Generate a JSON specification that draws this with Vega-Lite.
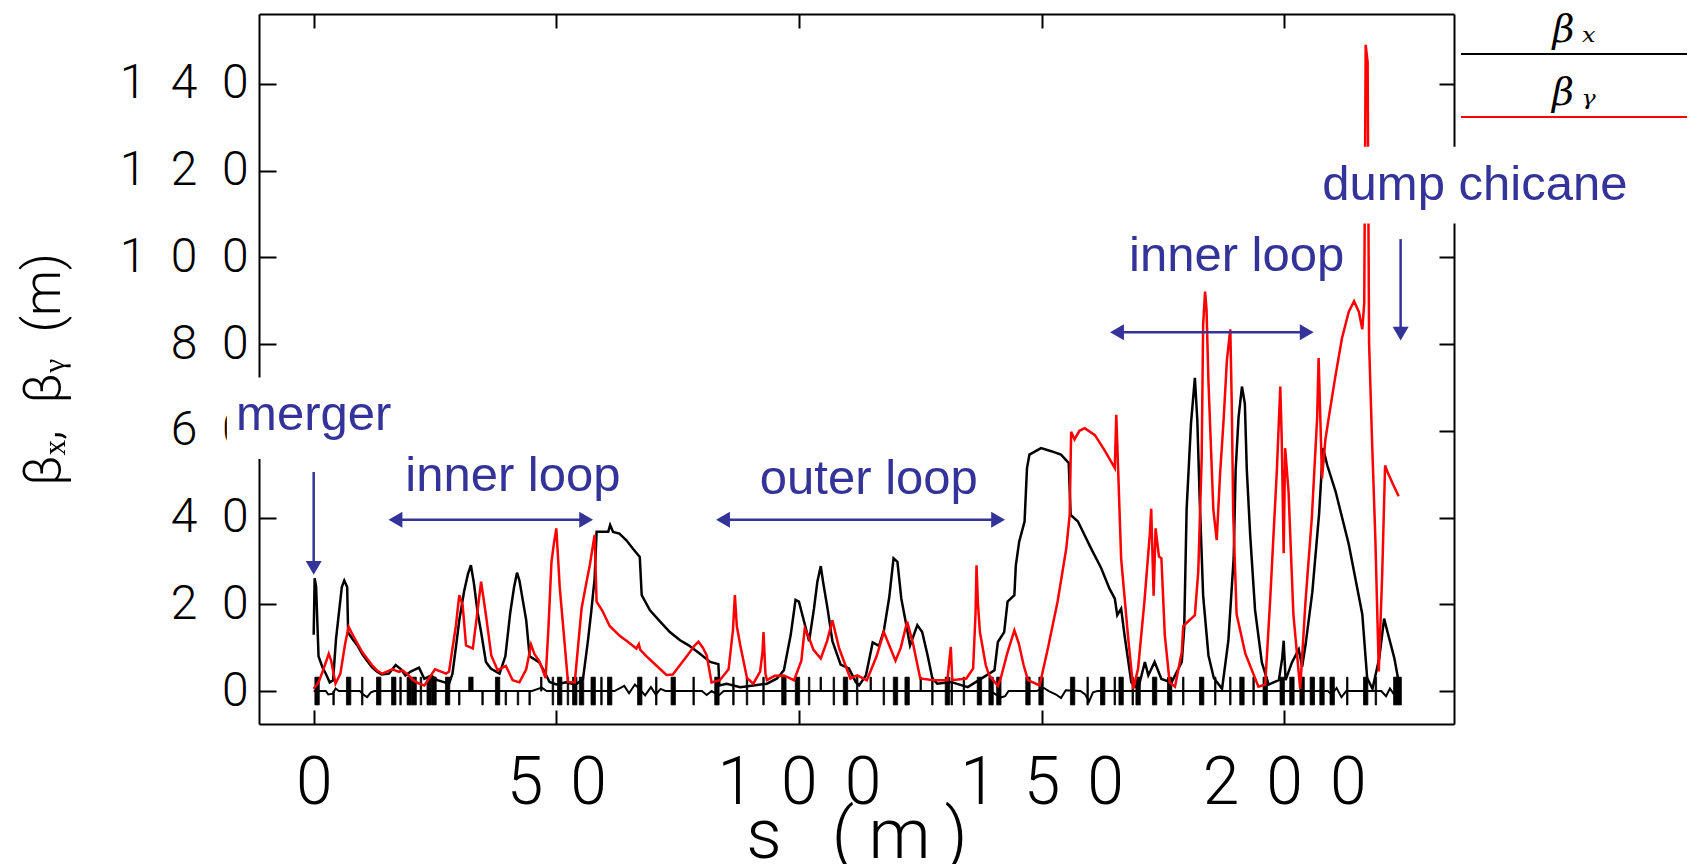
{
  "$schema": "https://vega.github.io/schema/vega-lite/v6.json",
  "background": "white",
  "autosize": {"type": "pad"},
  "padding": {"left": 17, "top": 12, "right": 0, "bottom": 0},
  "bounds": "flush",
  "spacing": 7,
  "config": {
    "view": {"stroke": null},
    "axis": {"domainColor": "black", "domainWidth": 2, "tickColor": "black", "tickWidth": 2, "labelColor": "black", "titleColor": "black", "grid": false, "labelFont": "Roboto", "labelFontWeight": 300, "titleFont": "Roboto", "titleFontWeight": 300, "labelOverlap": false, "labelFlush": false}
  },
  "datasets": {
    "bx": [
      {"s":0,"v":13},{"s":0.2,"v":26},{"s":0.5,"v":24},{"s":1.0,"v":8},{"s":1.8,"v":5.5},{"s":2.5,"v":4},{"s":3.3,"v":2},{"s":4.0,"v":2.5},{"s":4.6,"v":12},{"s":5.2,"v":18},{"s":5.8,"v":24},{"s":6.3,"v":25.5},{"s":6.9,"v":24},{"s":7.1,"v":13.5},{"s":8,"v":12},{"s":9,"v":10.5},{"s":10,"v":8.5},{"s":11,"v":7},{"s":12,"v":5.5},{"s":13,"v":4.5},{"s":14,"v":3.8},{"s":15.5,"v":4},{"s":16.9,"v":6},{"s":18,"v":5},{"s":18.9,"v":3.6},{"s":20,"v":4.5},{"s":21.7,"v":5.4},{"s":22.8,"v":2.8},{"s":24.2,"v":3.6},{"s":25.5,"v":2.5},{"s":27,"v":2},{"s":27.9,"v":1.7},{"s":28.6,"v":4},{"s":29.3,"v":10},{"s":30,"v":16.3},{"s":31,"v":23},{"s":31.8,"v":27},{"s":32.4,"v":29},{"s":33,"v":25},{"s":33.8,"v":18},{"s":34.5,"v":13.6},{"s":35.5,"v":6.7},{"s":36.5,"v":5.2},{"s":38.3,"v":4},{"s":39.5,"v":8},{"s":40.5,"v":18},{"s":41.3,"v":24},{"s":41.9,"v":27.3},{"s":42.4,"v":25.5},{"s":43.8,"v":16.3},{"s":44.5,"v":8},{"s":46.5,"v":6.6},{"s":47.6,"v":4.4},{"s":48.6,"v":2.1},{"s":50,"v":1.5},{"s":52,"v":2},{"s":54,"v":1.5},{"s":55.5,"v":2.8},{"s":56.5,"v":11.4},{"s":57.2,"v":18.3},{"s":57.9,"v":26},{"s":58.3,"v":36.7},{"s":60.7,"v":36.7},{"s":61.1,"v":38.3},{"s":61.7,"v":36.7},{"s":63,"v":36.3},{"s":64.4,"v":34.8},{"s":65.8,"v":32.8},{"s":67.2,"v":30.9},{"s":67.6,"v":22.1},{"s":69.3,"v":18.6},{"s":71.4,"v":16},{"s":73.4,"v":13.6},{"s":75.5,"v":11.7},{"s":77.2,"v":10.6},{"s":79.6,"v":8.6},{"s":81.7,"v":6.7},{"s":83.4,"v":6.2},{"s":83.6,"v":1.3},{"s":85.1,"v":1.7},{"s":87.9,"v":0.9},{"s":90.6,"v":1.3},{"s":93.4,"v":1.7},{"s":95.5,"v":2.9},{"s":96.9,"v":4.8},{"s":98.3,"v":12.9},{"s":99.3,"v":21},{"s":100,"v":20.6},{"s":100.7,"v":17.6},{"s":102.1,"v":11.5},{"s":103.1,"v":19},{"s":103.8,"v":25.2},{"s":104.5,"v":28.8},{"s":105,"v":25},{"s":105.9,"v":19},{"s":106.9,"v":11.5},{"s":108.6,"v":6.1},{"s":110.3,"v":5.2},{"s":111.7,"v":2.1},{"s":112.4,"v":1.3},{"s":113.8,"v":3.6},{"s":115.2,"v":11.2},{"s":116.5,"v":10.4},{"s":117.5,"v":13.9},{"s":118.6,"v":21.5},{"s":119.5,"v":30.6},{"s":120.3,"v":29.8},{"s":121.1,"v":21.3},{"s":122,"v":16},{"s":122.9,"v":10.5},{"s":124.4,"v":15.2},{"s":125.4,"v":13.6},{"s":126.5,"v":8.3},{"s":127.5,"v":2.9},{"s":128.5,"v":1.7},{"s":131.3,"v":2.1},{"s":134.8,"v":0.9},{"s":137.5,"v":2.8},{"s":140.3,"v":4.8},{"s":141,"v":11.3},{"s":142.3,"v":13.6},{"s":143,"v":20.6},{"s":144.4,"v":22.1},{"s":144.7,"v":29},{"s":145.4,"v":34.5},{"s":146.5,"v":39.1},{"s":147,"v":51.4},{"s":147.5,"v":54.5},{"s":149.9,"v":56},{"s":152,"v":55.3},{"s":154,"v":54.5},{"s":155.6,"v":52.6},{"s":156,"v":40.6},{"s":157.5,"v":39.1},{"s":160.2,"v":32.9},{"s":162.3,"v":28.3},{"s":164,"v":23.6},{"s":165.1,"v":21.3},{"s":165.6,"v":17.5},{"s":166.4,"v":19},{"s":167.1,"v":12.9},{"s":167.9,"v":6.7},{"s":168.5,"v":2},{"s":169.9,"v":0.5},{"s":171.3,"v":6.7},{"s":172,"v":3.6},{"s":173.3,"v":6.7},{"s":174.7,"v":2.8},{"s":176.8,"v":2},{"s":178.9,"v":6.7},{"s":179.4,"v":14.4},{"s":179.9,"v":42},{"s":180.8,"v":61.7},{"s":181.6,"v":72.2},{"s":182.1,"v":62.5},{"s":182.6,"v":44},{"s":183.3,"v":22},{"s":184.4,"v":8.2},{"s":185.5,"v":3},{"s":187.2,"v":0.5},{"s":188.5,"v":11.6},{"s":189.6,"v":30.8},{"s":190,"v":51},{"s":190.6,"v":63.1},{"s":191.3,"v":70.2},{"s":191.9,"v":66.2},{"s":192.3,"v":51},{"s":193,"v":35.9},{"s":194,"v":18.7},{"s":195.4,"v":6.6},{"s":196.8,"v":1.5},{"s":198.9,"v":2.5},{"s":199.6,"v":7.6},{"s":199.9,"v":11.6},{"s":200.3,"v":2.5},{"s":201.6,"v":6.6},{"s":203,"v":9.6},{"s":203.7,"v":5.6},{"s":204.4,"v":10.6},{"s":205.8,"v":22.8},{"s":207.2,"v":40.9},{"s":208,"v":56},{"s":208.9,"v":52},{"s":210.6,"v":46},{"s":213.3,"v":33.9},{"s":216.1,"v":17.7},{"s":217.1,"v":3},{"s":218.2,"v":0.5},{"s":219.6,"v":7.6},{"s":220.6,"v":16.7},{"s":221.3,"v":13.6},{"s":222.7,"v":7.6},{"s":223.7,"v":1.5}
    ],
    "by": [
      {"s":0,"v":0.5},{"s":1,"v":2},{"s":2,"v":5},{"s":3.1,"v":8.6},{"s":3.6,"v":7},{"s":4.5,"v":1.7},{"s":5.5,"v":4},{"s":6.5,"v":11},{"s":7.2,"v":14.8},{"s":7.8,"v":13.5},{"s":9,"v":11},{"s":10,"v":9},{"s":11,"v":7.5},{"s":12,"v":6},{"s":13,"v":4.8},{"s":14.1,"v":4},{"s":16.2,"v":5},{"s":17.6,"v":4.4},{"s":18.3,"v":4.8},{"s":19.7,"v":3.5},{"s":20.5,"v":2.5},{"s":21.7,"v":1.7},{"s":22.8,"v":1.3},{"s":25,"v":5},{"s":27.3,"v":4},{"s":27.9,"v":4.5},{"s":28.6,"v":9.8},{"s":29.3,"v":15},{"s":30,"v":22.1},{"s":30.7,"v":19.8},{"s":31.4,"v":10.5},{"s":32.8,"v":9.8},{"s":33.6,"v":17},{"s":34.5,"v":25.2},{"s":35.5,"v":17.5},{"s":36.6,"v":8.2},{"s":37.9,"v":4.8},{"s":39.6,"v":5.8},{"s":41,"v":2.5},{"s":42.4,"v":2},{"s":43.8,"v":5},{"s":44.8,"v":10.7},{"s":45.5,"v":8.5},{"s":46.5,"v":6.9},{"s":47.8,"v":3},{"s":48.4,"v":15},{"s":49,"v":29.7},{"s":49.5,"v":34},{"s":50,"v":37.5},{"s":50.5,"v":28},{"s":50.7,"v":24},{"s":51.4,"v":15},{"s":52.4,"v":2.1},{"s":53.8,"v":2},{"s":55.2,"v":19},{"s":56.2,"v":25},{"s":56.9,"v":29},{"s":57.9,"v":36},{"s":58.3,"v":20.6},{"s":59.5,"v":18.5},{"s":61,"v":15},{"s":63,"v":12.8},{"s":64.8,"v":11.3},{"s":66.5,"v":9.8},{"s":67,"v":10.8},{"s":67.3,"v":9.5},{"s":68.6,"v":8},{"s":70.5,"v":6},{"s":72.7,"v":3.7},{"s":74,"v":3.8},{"s":75.5,"v":6},{"s":77,"v":8.2},{"s":78.5,"v":10.5},{"s":79.3,"v":11.4},{"s":80.2,"v":10},{"s":81,"v":8.2},{"s":82,"v":2},{"s":83.7,"v":2.5},{"s":85.5,"v":5},{"s":86.4,"v":14},{"s":86.8,"v":22.1},{"s":87.2,"v":15},{"s":87.9,"v":10.6},{"s":89.3,"v":3},{"s":90.6,"v":1.7},{"s":92,"v":4.5},{"s":92.5,"v":9},{"s":92.7,"v":13.6},{"s":93.1,"v":4},{"s":93.4,"v":2.5},{"s":95,"v":3.5},{"s":96.9,"v":3.6},{"s":99,"v":2.5},{"s":100.5,"v":7},{"s":101.2,"v":14.4},{"s":102,"v":12.5},{"s":103,"v":9.5},{"s":104.5,"v":7.5},{"s":105.8,"v":11.5},{"s":106.9,"v":16.3},{"s":108.3,"v":9.8},{"s":110.6,"v":2.9},{"s":112,"v":3.6},{"s":114,"v":2.5},{"s":116,"v":8},{"s":117.5,"v":13.6},{"s":119.9,"v":7},{"s":121,"v":10},{"s":122.3,"v":16},{"s":123.5,"v":11},{"s":125,"v":2.9},{"s":127.8,"v":2.5},{"s":130.6,"v":2.5},{"s":131,"v":7},{"s":131.3,"v":10.2},{"s":131.6,"v":2.5},{"s":134.5,"v":2.9},{"s":135.9,"v":5.2},{"s":136.4,"v":18},{"s":136.6,"v":29},{"s":136.9,"v":20},{"s":137.3,"v":13.6},{"s":138.5,"v":6},{"s":139.2,"v":3.6},{"s":141,"v":1.2},{"s":141.6,"v":3},{"s":143,"v":9},{"s":144.4,"v":14},{"s":145.3,"v":11},{"s":146.3,"v":6},{"s":147.2,"v":2.5},{"s":149.6,"v":1.3},{"s":151.3,"v":9.8},{"s":153.3,"v":20.6},{"s":155.1,"v":32.9},{"s":155.8,"v":40.6},{"s":156.1,"v":59.8},{"s":156.8,"v":58},{"s":157.8,"v":60},{"s":158.9,"v":60.6},{"s":161,"v":59},{"s":163,"v":55.5},{"s":165.1,"v":51.4},{"s":165.4,"v":63.7},{"s":165.8,"v":50.6},{"s":166.4,"v":30.6},{"s":167.8,"v":12.9},{"s":168.9,"v":0.5},{"s":169.9,"v":5.2},{"s":171.2,"v":20.6},{"s":172.3,"v":36},{"s":172.6,"v":42},{"s":173.1,"v":22},{"s":173.5,"v":37.5},{"s":174.2,"v":31},{"s":174.7,"v":30.6},{"s":175.4,"v":12.9},{"s":176.4,"v":2},{"s":177.5,"v":1},{"s":178.9,"v":9},{"s":179.2,"v":15},{"s":181.6,"v":17.5},{"s":182.3,"v":27.6},{"s":183,"v":53.7},{"s":183.3,"v":84.4},{"s":183.7,"v":92.1},{"s":184,"v":88},{"s":184.4,"v":71.2},{"s":185.4,"v":41.9},{"s":186.1,"v":34.8},{"s":186.8,"v":50.2},{"s":187.5,"v":62.1},{"s":188.2,"v":76.3},{"s":188.9,"v":83.4},{"s":189.2,"v":66.2},{"s":189.5,"v":40.9},{"s":190.2,"v":17.7},{"s":192,"v":8.6},{"s":194.7,"v":1},{"s":196.1,"v":1.5},{"s":197.1,"v":20.7},{"s":198.5,"v":51},{"s":199.2,"v":70.2},{"s":199.5,"v":58.1},{"s":199.9,"v":31.8},{"s":200.2,"v":56},{"s":200.9,"v":46},{"s":201.9,"v":17.7},{"s":203.3,"v":0.5},{"s":204.4,"v":20.7},{"s":205.7,"v":39.9},{"s":206.8,"v":63.1},{"s":207.1,"v":76.8},{"s":207.8,"v":49},{"s":208.5,"v":58},{"s":209.2,"v":63.1},{"s":210.5,"v":72.2},{"s":211.9,"v":81.3},{"s":213.3,"v":87.4},{"s":214.4,"v":89.9},{"s":215.4,"v":87.4},{"s":216.1,"v":83.4},{"s":216.5,"v":89.4},{"s":216.8,"v":149},{"s":217.2,"v":145},{"s":217.5,"v":80.3},{"s":218.1,"v":58.1},{"s":218.8,"v":34.8},{"s":219.5,"v":4.5},{"s":220.2,"v":26.8},{"s":220.8,"v":52},{"s":221.3,"v":50.5},{"s":222.5,"v":47.5},{"s":223.6,"v":44.9}
    ],
    "eta": [
      {"s":0,"v":0},{"s":2.5,"v":0},{"s":3,"v":-0.8},{"s":4,"v":-0.6},{"s":4.5,"v":0.6},{"s":5.2,"v":0},{"s":9.5,"v":0},{"s":10.2,"v":-0.8},{"s":11,"v":-1.4},{"s":11.8,"v":-0.3},{"s":12.5,"v":0},{"s":45,"v":0},{"s":47,"v":0.8},{"s":48,"v":0},{"s":62,"v":0},{"s":64,"v":1.2},{"s":65,"v":-0.5},{"s":66.2,"v":1.5},{"s":67.2,"v":0.4},{"s":68.3,"v":-1},{"s":69.5,"v":0.9},{"s":70.5,"v":-0.8},{"s":71.5,"v":0.5},{"s":72.5,"v":0},{"s":80,"v":0},{"s":81,"v":-0.9},{"s":82,"v":0},{"s":83.5,"v":-1},{"s":84.5,"v":0},{"s":139.5,"v":0},{"s":140.3,"v":-0.6},{"s":141.5,"v":-1.5},{"s":142.5,"v":-1.2},{"s":143.2,"v":0},{"s":149,"v":0},{"s":150.5,"v":0.7},{"s":151.5,"v":0},{"s":153,"v":-0.8},{"s":154,"v":-1.6},{"s":155,"v":0.2},{"s":158,"v":0},{"s":159,"v":-0.8},{"s":159.8,"v":-2.4},{"s":160.6,"v":-0.3},{"s":161.5,"v":0},{"s":209,"v":0},{"s":209.8,"v":-0.8},{"s":210.8,"v":0.7},{"s":211.8,"v":-1.4},{"s":212.8,"v":0},{"s":220,"v":0},{"s":221,"v":-1.2},{"s":221.8,"v":0.6},{"s":222.5,"v":-0.6},{"s":224,"v":0}
    ],
    "lattice": [
      {"s":0.25,"s2":1.15,"v":-3.2,"v2":3.2},{"s":3.95,"s2":4.25,"v":-3.2,"v2":0},{"s":6.75,"s2":7.65,"v":-3.2,"v2":3.2},{"s":9.85,"s2":10.15,"v":-3.2,"v2":3.2},{"s":12.95,"s2":13.85,"v":-3.2,"v2":3.2},{"s":16.05,"s2":16.95,"v":-3.2,"v2":3.2},{"s":17.75,"s2":18.05,"v":-3.2,"v2":3.2},{"s":19.25,"s2":20.15,"v":-3.2,"v2":3.2},{"s":20.25,"s2":21.15,"v":-3.2,"v2":3.2},{"s":21.95,"s2":22.25,"v":-3.2,"v2":3.2},{"s":23.35,"s2":24.25,"v":-3.2,"v2":3.2},{"s":24.35,"s2":25.25,"v":-3.2,"v2":3.2},{"s":27.15,"s2":28.05,"v":-3.2,"v2":3.2},{"s":29.85,"s2":30.15,"v":-3.2,"v2":0},{"s":31.95,"s2":32.85,"v":0,"v2":3.2},{"s":34.65,"s2":34.95,"v":-3.2,"v2":0},{"s":37.45,"s2":38.35,"v":-3.2,"v2":3.2},{"s":39.45,"s2":39.75,"v":-3.2,"v2":0},{"s":41.95,"s2":42.25,"v":-3.2,"v2":0},{"s":44.35,"s2":44.65,"v":-3.2,"v2":0},{"s":46.75,"s2":47.05,"v":0,"v2":3.2},{"s":49.15,"s2":49.45,"v":-3.2,"v2":3.2},{"s":50.25,"s2":51.15,"v":-3.2,"v2":3.2},{"s":52.25,"s2":52.55,"v":-3.2,"v2":3.2},{"s":53.35,"s2":54.25,"v":-3.2,"v2":3.2},{"s":54.75,"s2":55.65,"v":-3.2,"v2":3.2},{"s":57.15,"s2":58.05,"v":-3.2,"v2":3.2},{"s":59.15,"s2":59.45,"v":-3.2,"v2":3.2},{"s":60.55,"s2":61.45,"v":-3.2,"v2":3.2},{"s":66.75,"s2":67.65,"v":-3.2,"v2":3.2},{"s":70.45,"s2":70.75,"v":-3.2,"v2":3.2},{"s":73.65,"s2":74.55,"v":-3.2,"v2":3.2},{"s":78.15,"s2":78.45,"v":-3.2,"v2":3.2},{"s":82.65,"s2":83.55,"v":-3.2,"v2":3.2},{"s":86.35,"s2":86.65,"v":-3.2,"v2":3.2},{"s":89.15,"s2":89.45,"v":-3.2,"v2":3.2},{"s":92.55,"s2":92.85,"v":-3.2,"v2":3.2},{"s":96.45,"s2":97.35,"v":-3.2,"v2":3.2},{"s":99.25,"s2":100.15,"v":-3.2,"v2":3.2},{"s":101.95,"s2":102.25,"v":-3.2,"v2":3.2},{"s":104.35,"s2":104.65,"v":0,"v2":3.2},{"s":107.05,"s2":107.35,"v":-3.2,"v2":3.2},{"s":109.15,"s2":110.05,"v":-3.2,"v2":3.2},{"s":111.85,"s2":112.15,"v":-3.2,"v2":3.2},{"s":114.65,"s2":114.95,"v":0,"v2":3.2},{"s":117.35,"s2":117.65,"v":-3.2,"v2":3.2},{"s":119.45,"s2":120.35,"v":-3.2,"v2":3.2},{"s":121.85,"s2":122.75,"v":-3.2,"v2":3.2},{"s":124.95,"s2":125.25,"v":0,"v2":3.2},{"s":127.35,"s2":127.65,"v":-3.2,"v2":3.2},{"s":130.15,"s2":131.05,"v":-3.2,"v2":3.2},{"s":131.35,"s2":131.65,"v":-3.2,"v2":3.2},{"s":133.85,"s2":134.15,"v":-3.2,"v2":3.2},{"s":136.75,"s2":137.65,"v":-3.2,"v2":3.2},{"s":139.15,"s2":140.05,"v":-3.2,"v2":3.2},{"s":140.75,"s2":141.65,"v":-3.2,"v2":3.2},{"s":146.75,"s2":147.65,"v":-3.2,"v2":3.2},{"s":149.45,"s2":150.35,"v":-3.2,"v2":3.2},{"s":155.95,"s2":156.85,"v":-3.2,"v2":3.2},{"s":159.35,"s2":159.65,"v":-3.2,"v2":3.2},{"s":162.15,"s2":163.05,"v":-3.2,"v2":3.2},{"s":164.95,"s2":165.25,"v":-3.2,"v2":3.2},{"s":165.95,"s2":166.85,"v":-3.2,"v2":3.2},{"s":168.65,"s2":168.95,"v":-3.2,"v2":3.2},{"s":169.45,"s2":170.35,"v":-3.2,"v2":3.2},{"s":172.85,"s2":173.75,"v":-3.2,"v2":3.2},{"s":175.95,"s2":176.85,"v":-3.2,"v2":3.2},{"s":179.05,"s2":179.35,"v":-3.2,"v2":3.2},{"s":182.55,"s2":183.45,"v":-3.2,"v2":3.2},{"s":185.65,"s2":185.95,"v":-3.2,"v2":3.2},{"s":188.75,"s2":189.05,"v":-3.2,"v2":3.2},{"s":190.85,"s2":191.75,"v":-3.2,"v2":3.2},{"s":193.55,"s2":193.85,"v":-3.2,"v2":3.2},{"s":195.65,"s2":196.55,"v":-3.2,"v2":3.2},{"s":199.15,"s2":200.05,"v":-3.2,"v2":3.2},{"s":201.15,"s2":202.05,"v":-3.2,"v2":3.2},{"s":203.25,"s2":204.15,"v":-3.2,"v2":3.2},{"s":205.35,"s2":206.25,"v":-3.2,"v2":3.2},{"s":207.35,"s2":208.25,"v":-3.2,"v2":3.2},{"s":209.45,"s2":210.35,"v":-3.2,"v2":3.2},{"s":212.85,"s2":213.15,"v":-3.2,"v2":3.2},{"s":216.35,"s2":217.25,"v":-3.2,"v2":3.2},{"s":218.75,"s2":219.05,"v":-3.2,"v2":3.2},{"s":222.55,"s2":224.15,"v":-3.2,"v2":3.2}
    ],
    "boxes": [
      {"s":-17.9,"s2":16.1,"v":53.5,"v2":72.3},
      {"s":207.9,"s2":271,"v":107.8,"v2":125.5}
    ],
    "labels": [
      {"s":0,"v":60.1,"text":"merger"},
      {"s":41.05,"v":46.2,"text":"inner loop"},
      {"s":114.4,"v":45.5,"text":"outer loop"},
      {"s":190.2,"v":96.9,"text":"inner loop"},
      {"s":239.3,"v":113.1,"text":"dump chicane"}
    ],
    "shafts": [
      {"s":0,"s2":0,"v":50.5,"v2":28.4},
      {"s":16.85,"s2":56.15,"v":39.5,"v2":39.5},
      {"s":84.35,"s2":141.05,"v":39.5,"v2":39.5},
      {"s":165.55,"s2":204.65,"v":82.7,"v2":82.7},
      {"s":224,"s2":224,"v":104.2,"v2":82.4}
    ],
    "heads": [
      {"s":0,"v":28.4,"dir":"down"},
      {"s":16.85,"v":39.5,"dir":"left"},
      {"s":56.15,"v":39.5,"dir":"right"},
      {"s":84.35,"v":39.5,"dir":"left"},
      {"s":141.05,"v":39.5,"dir":"right"},
      {"s":165.55,"v":82.7,"dir":"left"},
      {"s":204.65,"v":82.7,"dir":"right"},
      {"s":224,"v":82.4,"dir":"down"}
    ]
  },
  "hconcat": [
    {
      "width": 1195,
      "height": 710,
      "resolve": {"axis": {"x": "independent", "y": "independent"}},
      "layer": [
        {
          "data": {"name": "lattice"},
          "mark": {"type": "rect", "color": "black", "stroke": "black", "strokeWidth": 0.8},
          "encoding": {
            "x": {"field": "s", "type": "quantitative", "scale": {"domain": [-11.27, 235.0], "nice": false, "zero": false}, "axis": {"orient": "top", "values": [0, 50, 100, 150, 200], "tickSize": -14, "labels": false, "title": null}},
            "x2": {"field": "s2"},
            "y": {"field": "v", "type": "quantitative", "scale": {"domain": [-7.6, 156.1], "nice": false, "zero": false}, "axis": {"orient": "right", "values": [0, 20, 40, 60, 80, 100, 120, 140], "tickSize": -15, "labels": false, "title": null}},
            "y2": {"field": "v2"}
          }
        },
        {
          "data": {"name": "eta"},
          "mark": {"type": "line", "color": "black", "strokeWidth": 2},
          "encoding": {
            "x": {"field": "s", "type": "quantitative", "scale": {"domain": [-11.27, 235.0], "nice": false, "zero": false}, "axis": null},
            "y": {"field": "v", "type": "quantitative", "scale": {"domain": [-7.6, 156.1], "nice": false, "zero": false}, "axis": null}
          }
        },
        {
          "data": {"name": "bx"},
          "mark": {"type": "line", "color": "black", "strokeWidth": 2.5},
          "encoding": {
            "x": {"field": "s", "type": "quantitative", "scale": {"domain": [-11.27, 235.0], "nice": false, "zero": false}, "axis": {"orient": "bottom", "values": [0, 50, 100, 150, 200], "tickSize": -14, "labelPadding": 41, "labelFontSize": 66, "labelExpr": "join(split(datum.label, ''), '\u2009\u2009')", "title": "s\u2002\u2009(\u2009m\u2009)", "titleFontSize": 70, "titlePadding": -14}},
            "y": {"field": "v", "type": "quantitative", "scale": {"domain": [-7.6, 156.1], "nice": false, "zero": false}, "axis": {"orient": "left", "values": [0, 20, 40, 60, 80, 100, 120, 140], "tickSize": -17, "labelPadding": 28, "labelFontSize": 48, "labelExpr": "join(split(datum.label, ''), '\u2002')", "title": "βₓ,\u2002βᵧ\u2002(m)", "titleFontSize": 52, "titlePadding": 49}}
          }
        },
        {
          "data": {"name": "by"},
          "mark": {"type": "line", "color": "#ff0000", "strokeWidth": 2.5},
          "encoding": {
            "x": {"field": "s", "type": "quantitative", "scale": {"domain": [-11.27, 235.0], "nice": false, "zero": false}, "axis": null},
            "y": {"field": "v", "type": "quantitative", "scale": {"domain": [-7.6, 156.1], "nice": false, "zero": false}, "axis": null}
          }
        },
        {
          "data": {"name": "boxes"},
          "mark": {"type": "rect", "color": "white"},
          "encoding": {
            "x": {"field": "s", "type": "quantitative", "scale": {"domain": [-11.27, 235.0], "nice": false, "zero": false}, "axis": null},
            "x2": {"field": "s2"},
            "y": {"field": "v", "type": "quantitative", "scale": {"domain": [-7.6, 156.1], "nice": false, "zero": false}, "axis": null},
            "y2": {"field": "v2"}
          }
        },
        {
          "data": {"name": "labels"},
          "mark": {"type": "text", "font": "Liberation Sans", "fontSize": 49, "color": "#333399", "align": "center", "baseline": "alphabetic"},
          "encoding": {
            "x": {"field": "s", "type": "quantitative", "scale": {"domain": [-11.27, 235.0], "nice": false, "zero": false}, "axis": null},
            "y": {"field": "v", "type": "quantitative", "scale": {"domain": [-7.6, 156.1], "nice": false, "zero": false}, "axis": null},
            "text": {"field": "text"}
          }
        },
        {
          "data": {"name": "shafts"},
          "mark": {"type": "rule", "color": "#333399", "strokeWidth": 2.5},
          "encoding": {
            "x": {"field": "s", "type": "quantitative", "scale": {"domain": [-11.27, 235.0], "nice": false, "zero": false}, "axis": null},
            "x2": {"field": "s2"},
            "y": {"field": "v", "type": "quantitative", "scale": {"domain": [-7.6, 156.1], "nice": false, "zero": false}, "axis": null},
            "y2": {"field": "v2"}
          }
        },
        {
          "data": {"name": "heads"},
          "mark": {"type": "point", "filled": true, "size": 256, "color": "#333399", "opacity": 1},
          "encoding": {
            "x": {"field": "s", "type": "quantitative", "scale": {"domain": [-11.27, 235.0], "nice": false, "zero": false}, "axis": null},
            "y": {"field": "v", "type": "quantitative", "scale": {"domain": [-7.6, 156.1], "nice": false, "zero": false}, "axis": null},
            "shape": {"field": "dir", "type": "nominal", "scale": {"domain": ["down", "left", "right"], "range": ["triangle-down", "triangle-left", "triangle-right"]}, "legend": null}
          }
        }
      ]
    },
    {
      "width": 226,
      "height": 143,
      "data": {"values": [{"label": "β\u2009ₓ", "series": "beta_x"}, {"label": "β\u2009ᵧ", "series": "beta_y"}]},
      "layer": [
        {
          "mark": {"type": "rule", "strokeWidth": 2},
          "encoding": {
            "x": {"datum": 0, "type": "quantitative", "scale": {"domain": [0, 1], "nice": false}, "axis": null},
            "x2": {"datum": 1},
            "y": {"field": "label", "type": "nominal", "sort": null, "scale": {"type": "point", "padding": 0.635}, "axis": null},
            "color": {"field": "series", "type": "nominal", "scale": {"domain": ["beta_x", "beta_y"], "range": ["black", "#ff0000"]}, "legend": null}
          }
        },
        {
          "mark": {"type": "text", "dy": -23, "fontSize": 38, "font": "DejaVu Serif", "fontStyle": "italic", "color": "black", "baseline": "middle", "align": "center"},
          "encoding": {
            "x": {"datum": 0.5, "type": "quantitative", "scale": {"domain": [0, 1], "nice": false}, "axis": null},
            "y": {"field": "label", "type": "nominal", "sort": null, "scale": {"type": "point", "padding": 0.635}, "axis": null},
            "text": {"field": "label"}
          }
        }
      ]
    }
  ]
}
